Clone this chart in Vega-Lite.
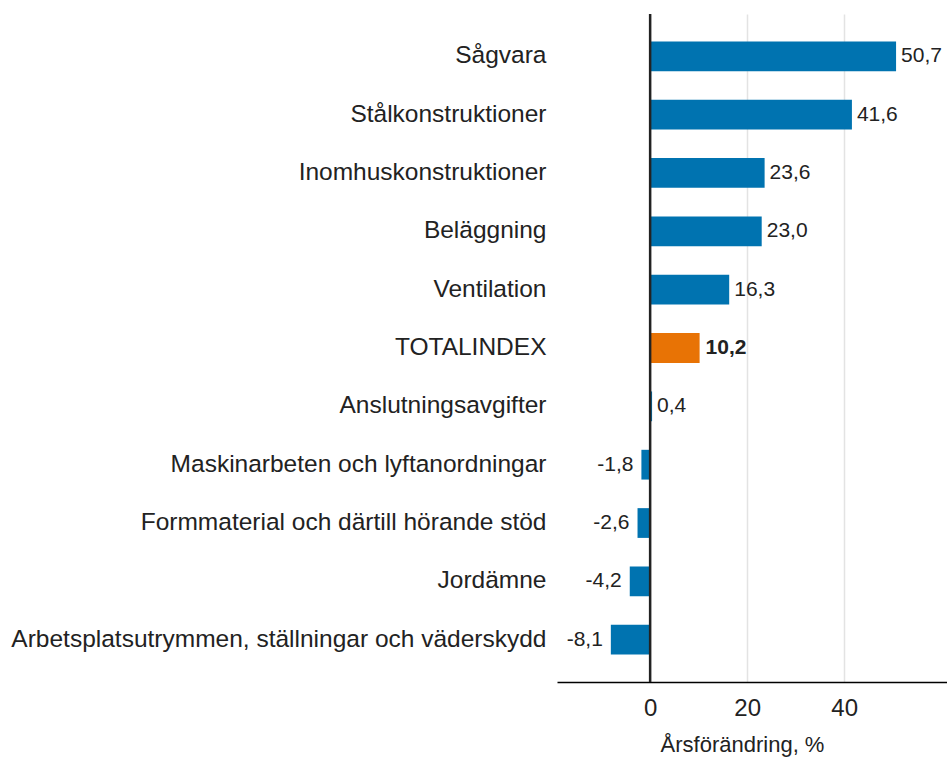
{
  "$schema": "https://vega.github.io/schema/vega-lite/v6.json",
  "width": 390,
  "height": 668,
  "autosize": {"type": "none"},
  "padding": {"left": 557, "top": 14, "right": 0, "bottom": 78},
  "background": "white",
  "config": {
    "view": {"stroke": null},
    "font": "Liberation Sans",
    "locale": {"number": {"decimal": ",", "thousands": " ", "grouping": [3], "currency": ["", " kr"], "minus": "-"}}
  },
  "data": {
    "values": [
      {"kategori": "Sågvara", "varde": 50.7, "typ": "del"},
      {"kategori": "Stålkonstruktioner", "varde": 41.6, "typ": "del"},
      {"kategori": "Inomhuskonstruktioner", "varde": 23.6, "typ": "del"},
      {"kategori": "Beläggning", "varde": 23.0, "typ": "del"},
      {"kategori": "Ventilation", "varde": 16.3, "typ": "del"},
      {"kategori": "TOTALINDEX", "varde": 10.2, "typ": "total"},
      {"kategori": "Anslutningsavgifter", "varde": 0.4, "typ": "del"},
      {"kategori": "Maskinarbeten och lyftanordningar", "varde": -1.8, "typ": "del"},
      {"kategori": "Formmaterial och därtill hörande stöd", "varde": -2.6, "typ": "del"},
      {"kategori": "Jordämne", "varde": -4.2, "typ": "del"},
      {"kategori": "Arbetsplatsutrymmen, ställningar och väderskydd", "varde": -8.1, "typ": "del"}
    ]
  },
  "encoding": {
    "y": {
      "field": "kategori",
      "type": "nominal",
      "sort": ["Sågvara", "Stålkonstruktioner", "Inomhuskonstruktioner", "Beläggning", "Ventilation", "TOTALINDEX", "Anslutningsavgifter", "Maskinarbeten och lyftanordningar", "Formmaterial och därtill hörande stöd", "Jordämne", "Arbetsplatsutrymmen, ställningar och väderskydd"],
      "scale": {"paddingInner": 0.49, "paddingOuter": 0.47},
      "axis": {
        "title": null,
        "domain": false,
        "ticks": false,
        "labelFontSize": 24.5,
        "labelColor": "#222",
        "labelPadding": 11,
        "labelLimit": 700
      }
    },
    "x": {
      "field": "varde",
      "type": "quantitative",
      "scale": {"domain": [-19.2, 61.2], "nice": false, "zero": false},
      "axis": {
        "values": [0, 20, 40],
        "title": "Årsförändring, %",
        "titleFontSize": 22,
        "titleFontWeight": "normal",
        "titleColor": "#222",
        "titlePadding": 14,
        "titleX": 185,
        "labelFontSize": 24,
        "labelColor": "#222",
        "labelPadding": 14,
        "ticks": false,
        "domainColor": "#000",
        "domainWidth": 1.5,
        "gridColor": "#e3e3e3",
        "gridWidth": 1.5
      }
    }
  },
  "layer": [
    {
      "mark": {"type": "bar"},
      "encoding": {
        "color": {
          "field": "typ",
          "type": "nominal",
          "scale": {"domain": ["del", "total"], "range": ["#0073B0", "#E87305"]},
          "legend": null
        }
      }
    },
    {
      "mark": {"type": "rule", "color": "#222", "strokeWidth": 2.5},
      "data": {"values": [{"noll": 0}]},
      "encoding": {
        "x": {"field": "noll", "type": "quantitative"},
        "y": null
      }
    },
    {
      "transform": [{"filter": "datum.varde >= 0 && datum.typ == 'del'"}],
      "mark": {"type": "text", "align": "left", "dx": 5, "fontSize": 21, "color": "#222"},
      "encoding": {"text": {"field": "varde", "type": "quantitative", "format": ".1f"}}
    },
    {
      "transform": [{"filter": "datum.typ == 'total'"}],
      "mark": {"type": "text", "align": "left", "dx": 6, "fontSize": 21, "fontWeight": "bold", "color": "#222"},
      "encoding": {"text": {"field": "varde", "type": "quantitative", "format": ".1f"}}
    },
    {
      "transform": [{"filter": "datum.varde < 0"}],
      "mark": {"type": "text", "align": "right", "dx": -8, "fontSize": 21, "color": "#222"},
      "encoding": {"text": {"field": "varde", "type": "quantitative", "format": ".1f"}}
    }
  ]
}
